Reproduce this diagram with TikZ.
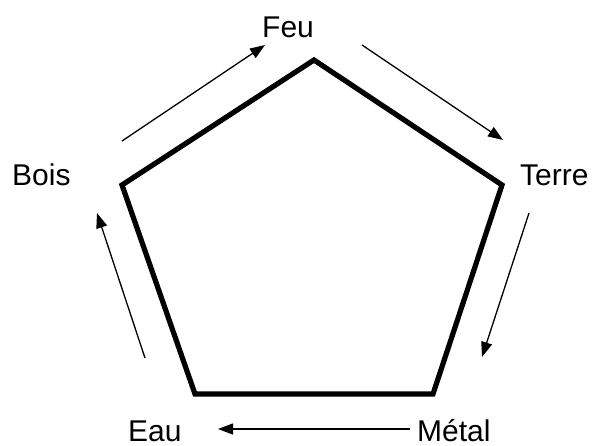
\documentclass[tikz,border=0pt]{standalone}
\usepackage{fontspec}
\setmainfont{Liberation Sans}
\usetikzlibrary{arrows.meta}
\begin{document}
\begin{tikzpicture}[x=1pt,y=-1pt,
  lbl/.style={inner sep=0pt,anchor=base west,font=\fontsize{30}{32}\selectfont},
  edge5/.style={line width=5.2pt,line join=miter},
  flow/.style={line width=1.3pt,-{Triangle[length=15pt,width=11pt]}}]
\useasboundingbox (0,0) rectangle (595,445);
\coordinate (pT) at (314,60);
\coordinate (pR) at (502,185);
\coordinate (pBR) at (433,394);
\coordinate (pBL) at (195,394);
\coordinate (pL) at (122,185);
\draw[edge5] (pT) -- (pR) -- (pBR) -- (pBL) -- (pL) -- cycle;
\node[lbl] (feu) at (262,37) {Feu};
\node[lbl] (terre) at (520,185) {Terre};
\node[lbl] (metal) at (417,441) {Métal};
\node[lbl] (eau) at (128,441) {Eau};
\node[lbl] (bois) at (12,185) {Bois};
\coordinate (a1s) at (122,141);
\coordinate (a1e) at (265,45);
\coordinate (a2s) at (362,45);
\coordinate (a2e) at (503,140);
\coordinate (a3s) at (529,213);
\coordinate (a3e) at (482,357);
\coordinate (a4s) at (410,429);
\coordinate (a4e) at (218,429);
\coordinate (a5s) at (145,358);
\coordinate (a5e) at (97,213);
\draw[flow] (a1s) -- (a1e);
\draw[flow] (a2s) -- (a2e);
\draw[flow] (a3s) -- (a3e);
\draw[flow] (a4s) -- (a4e);
\draw[flow] (a5s) -- (a5e);
\end{tikzpicture}
\end{document}
